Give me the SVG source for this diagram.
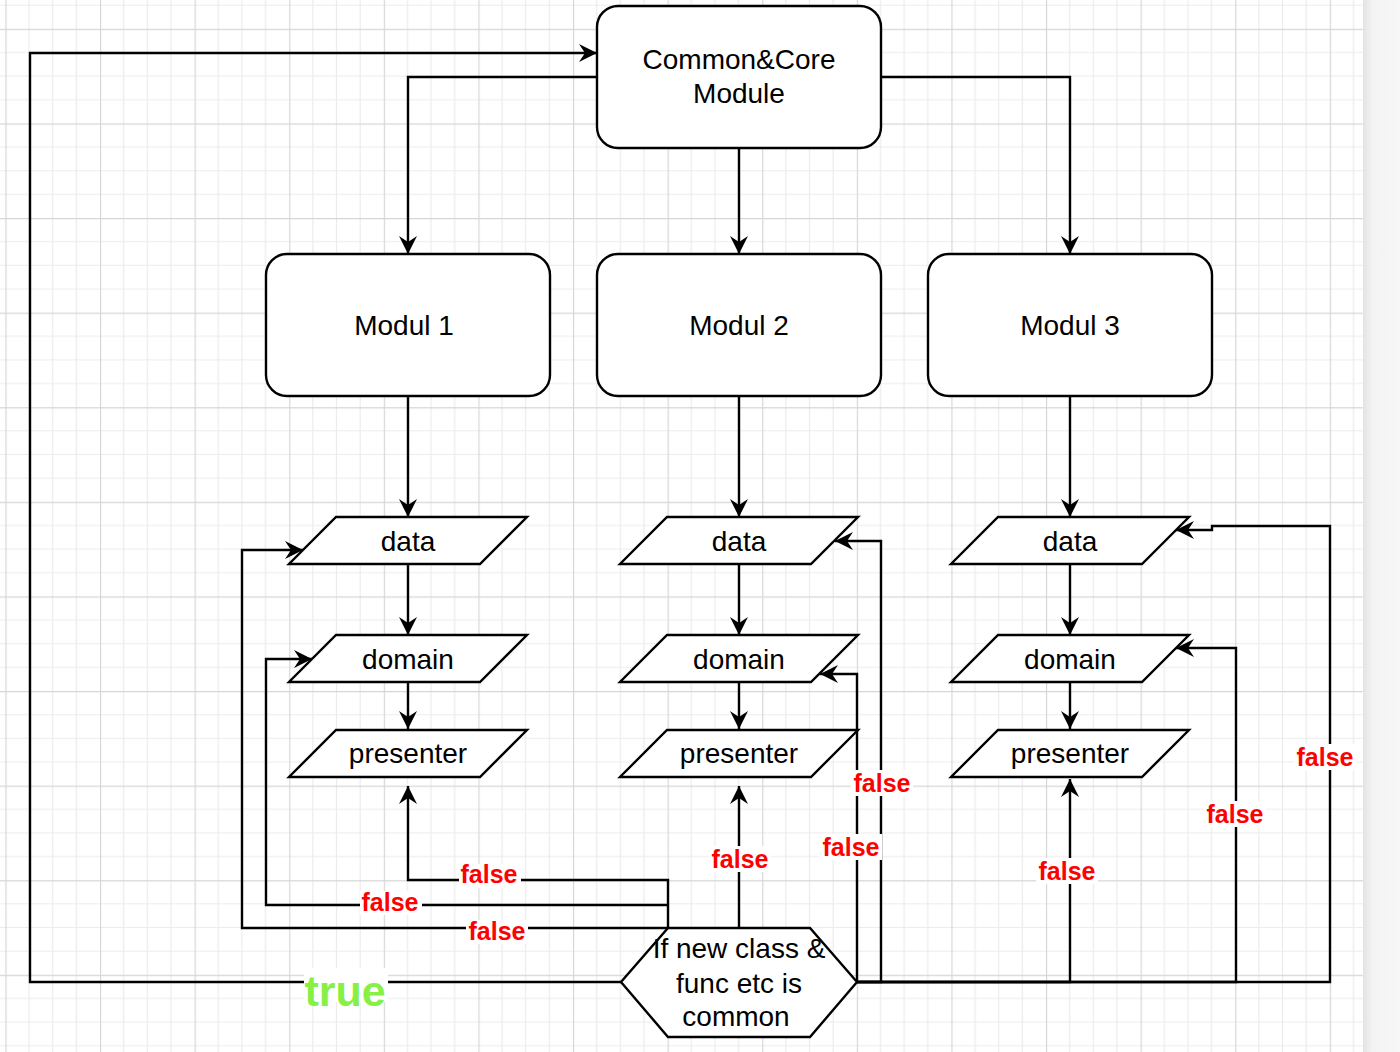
<svg xmlns="http://www.w3.org/2000/svg" width="1400" height="1052" viewBox="0 0 1400 1052">
<defs>
<pattern id="grid" patternUnits="userSpaceOnUse" x="5.4" y="28.8" width="94.6" height="94.6">
<path d="M23.65,0V94.6M47.3,0V94.6M70.95,0V94.6M0,23.65H94.6M0,47.3H94.6M0,70.95H94.6" stroke="#ececec" stroke-width="1.2" fill="none"/>
<path d="M0.5,0V94.6M0,0.5H94.6" stroke="#d6d6d6" stroke-width="1.3" fill="none"/>
</pattern>
<linearGradient id="shade" x1="0" y1="0" x2="1" y2="0">
<stop offset="0" stop-color="#e3e3e3"/>
<stop offset="0.25" stop-color="#f3f3f3"/>
<stop offset="1" stop-color="#f7f7f7"/>
</linearGradient>
<marker id="arr" markerUnits="userSpaceOnUse" markerWidth="20" markerHeight="20" refX="18" refY="9" orient="auto" viewBox="0 0 20 20">
<path d="M0,0 L18,9 L0,18 L6,9 Z" fill="#000"/>
</marker>
<style>
.box{fill:#fff;stroke:#000;stroke-width:2.4}
.t{font-family:"Liberation Sans",Arial,Helvetica,sans-serif;font-size:28px;fill:#000;text-anchor:middle}
.ln{fill:none;stroke:#000;stroke-width:2.4}
.ar{marker-end:url(#arr)}
.f{font-family:"Liberation Sans",Arial,Helvetica,sans-serif;font-size:25px;font-weight:bold;fill:#ff0000;text-anchor:middle}
.tr{font-family:"Liberation Sans",Arial,Helvetica,sans-serif;font-size:43px;font-weight:bold;fill:#86f044;text-anchor:middle}
.bg{fill:#fff}
</style>
</defs>
<rect x="0" y="0" width="1400" height="1052" fill="#fff"/>
<rect x="0" y="0" width="1363" height="1052" fill="url(#grid)"/>
<rect x="1363" y="0" width="37" height="1052" fill="url(#shade)"/>

<g id="connectors">
<path class="ln ar" d="M597,77 H408 V254"/>
<path class="ln ar" d="M739,148 V254"/>
<path class="ln ar" d="M881,77 H1070 V254"/>
<path class="ln ar" d="M408,396 V517"/>
<path class="ln ar" d="M739,396 V517"/>
<path class="ln ar" d="M1070,396 V517"/>
<path class="ln ar" d="M408,564 V635"/>
<path class="ln ar" d="M739,564 V635"/>
<path class="ln ar" d="M1070,564 V635"/>
<path class="ln ar" d="M408,683 V729"/>
<path class="ln ar" d="M739,683 V729"/>
<path class="ln ar" d="M1070,683 V729"/>
<path class="ln ar" d="M621,982 H30 V53 H597"/>
<path class="ln ar" d="M668,928 V880 H408 V786"/>
<path class="ln ar" d="M668,905 H266 V659 H312"/>
<path class="ln ar" d="M668,928 H242 V550 H303"/>
<path class="ln ar" d="M739,928 V786"/>
<path class="ln ar" d="M857,982 V674 H820"/>
<path class="ln ar" d="M857,982 H881 V541 H835"/>
<path class="ln ar" d="M857,982 H1070 V779"/>
<path class="ln ar" d="M857,982 H1236 V648 H1176"/>
<path class="ln ar" d="M857,982 H1330 V526 H1212 V530 H1176"/>
<g id="labels">
<rect class="bg" x="459" y="864" width="62" height="24"/>
<text class="f" x="489" y="883">false</text>
<rect class="bg" x="360" y="891" width="62" height="24"/>
<text class="f" x="390" y="911">false</text>
<rect class="bg" x="466" y="920" width="62" height="24"/>
<text class="f" x="497" y="940">false</text>
<rect class="bg" x="709" y="846" width="62" height="26"/>
<text class="f" x="740" y="868">false</text>
<rect class="bg" x="820" y="834" width="62" height="26"/>
<text class="f" x="851" y="856">false</text>
<rect class="bg" x="851" y="770" width="62" height="26"/>
<text class="f" x="882" y="792">false</text>
<rect class="bg" x="1036" y="858" width="62" height="26"/>
<text class="f" x="1067" y="880">false</text>
<rect class="bg" x="1204" y="801" width="62" height="26"/>
<text class="f" x="1235" y="823">false</text>
<rect class="bg" x="1294" y="744" width="62" height="26"/>
<text class="f" x="1325" y="766">false</text>
<rect class="bg" x="304" y="968" width="84" height="34"/>
<text class="tr" x="345" y="1006">true</text>
</g>
</g>

<g id="common">
<rect class="box" x="597" y="6" width="284" height="142" rx="21"/>
<text class="t" x="739" y="69">Common&amp;Core</text>
<text class="t" x="739" y="103">Module</text>
</g>
<g id="modul1">
<rect class="box" x="266" y="254" width="284" height="142" rx="21"/>
<text class="t" x="404" y="335">Modul 1</text>
</g>
<g id="modul2">
<rect class="box" x="597" y="254" width="284" height="142" rx="21"/>
<text class="t" x="739" y="335">Modul 2</text>
</g>
<g id="modul3">
<rect class="box" x="928" y="254" width="284" height="142" rx="21"/>
<text class="t" x="1070" y="335">Modul 3</text>
</g>

<g id="data1">
<path class="box" d="M336,517 H527 L480,564 H289 Z"/>
<text class="t" x="408" y="551">data</text>
</g>
<g id="domain1">
<path class="box" d="M336,635 H527 L480,682 H289 Z"/>
<text class="t" x="408" y="669">domain</text>
</g>
<g id="presenter1">
<path class="box" d="M336,730 H527 L480,777 H289 Z"/>
<text class="t" x="408" y="763">presenter</text>
</g>

<g id="data2">
<path class="box" d="M667,517 H858 L811,564 H620 Z"/>
<text class="t" x="739" y="551">data</text>
</g>
<g id="domain2">
<path class="box" d="M667,635 H858 L811,682 H620 Z"/>
<text class="t" x="739" y="669">domain</text>
</g>
<g id="presenter2">
<path class="box" d="M667,730 H858 L811,777 H620 Z"/>
<text class="t" x="739" y="763">presenter</text>
</g>

<g id="data3">
<path class="box" d="M998,517 H1189 L1142,564 H951 Z"/>
<text class="t" x="1070" y="551">data</text>
</g>
<g id="domain3">
<path class="box" d="M998,635 H1189 L1142,682 H951 Z"/>
<text class="t" x="1070" y="669">domain</text>
</g>
<g id="presenter3">
<path class="box" d="M998,730 H1189 L1142,777 H951 Z"/>
<text class="t" x="1070" y="763">presenter</text>
</g>

<g id="decision">
<path class="box" d="M668,928 H810 L857,982 L810,1037 H668 L621,982 Z"/>
<text class="t" x="739" y="958">If new class &amp;</text>
<text class="t" x="739" y="993">func etc is</text>
<text class="t" x="736" y="1026">common</text>
</g>
</svg>
